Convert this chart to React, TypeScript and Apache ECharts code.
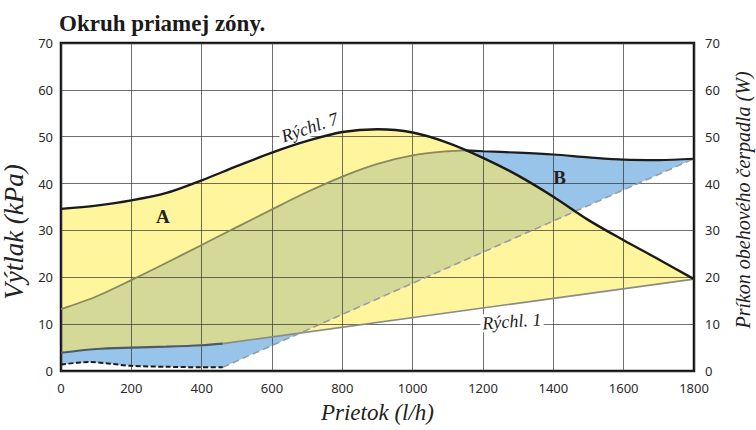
import React, { useEffect, useRef } from "react";
import * as echarts from "echarts";

// ---- data ----
const xTicks = [0, 200, 400, 600, 800, 1000, 1200, 1400, 1600, 1800];
const yTicks = [0, 10, 20, 30, 40, 50, 60, 70];

// Pressure curve at speed 7 (kPa)
const flow7 = [0, 100, 200, 300, 400, 500, 600, 700, 800, 900, 1000, 1100, 1200, 1300, 1400, 1500, 1600, 1700, 1800];
const rychl7 = [34.6, 35.3, 36.4, 38.0, 40.7, 43.7, 46.6, 49.1, 51.0, 51.6, 50.9, 48.7, 45.5, 41.7, 37.2, 32.2, 27.9, 23.8, 19.6];

// Pressure curve at speed 1 (kPa)
const flow1 = [0, 100, 200, 300, 400, 460, 1800];
const rychl1 = [3.9, 4.7, 5.0, 5.2, 5.5, 5.85, 19.6];

// Max power input (W)
const flowPmax = [0, 100, 200, 300, 400, 500, 600, 700, 800, 900, 1000, 1100, 1150, 1200, 1300, 1400, 1500, 1600, 1700, 1800];
const pmax = [13.2, 15.9, 19.4, 23.1, 26.9, 30.7, 34.5, 38.2, 41.5, 44.2, 46.0, 46.9, 47.1, 46.9, 46.6, 46.2, 45.6, 45.1, 45.0, 45.3];

// Min power input (W)
const flowPmin = [0, 80, 200, 300, 400, 460, 1800];
const pmin = [1.4, 1.9, 1.1, 0.9, 0.8, 0.8, 45.3];

// Annotations: [text, flow, value, rotation]
const curveLabels: [string, number, number, number][] = [
  ["Rýchl. 7", 707, 52.0, 0.33],
  ["Rýchl. 1", 1282, 10.6, 0.07],
];
const areaLabels: [string, number, number][] = [
  ["A", 290, 33.0],
  ["B", 1418, 41.4],
];

const YELLOW = "#fff59c";
const BLUE = "#97c4e8";
const OLIVE = "#d4d998";

const pairs = (fx: number[], fy: number[], from = 0, to = fx.length - 1) =>
  fx.slice(from, to + 1).map((f, i) => [f, fy[from + i]]);

const interp = (fx: number[], fy: number[], x: number) => {
  if (x <= fx[0]) return fy[0];
  for (let i = 1; i < fx.length; i++) {
    if (x <= fx[i]) {
      const t = (x - fx[i - 1]) / (fx[i] - fx[i - 1]);
      return fy[i - 1] + t * (fy[i] - fy[i - 1]);
    }
  }
  return fy[fy.length - 1];
};

const SERIF = '"Liberation Serif", "DejaVu Serif", serif';
const SANS = '"Noto Sans", "DejaVu Sans", sans-serif';

export default function App() {
  const ref = useRef<HTMLDivElement>(null);
  useEffect(() => {
    if (!ref.current) return;
    const chart = echarts.init(ref.current, undefined, { renderer: "svg" });
    const i460_1 = flow1.indexOf(460);
    const i1150 = flowPmax.indexOf(1150);
    const i460_m = flowPmin.indexOf(460);

    const gridLine = { show: true, lineStyle: { color: "#333", width: 1, opacity: 0.7 } };
    const tickLabel = { fontFamily: SANS, fontSize: 13, color: "#2a2a2a", formatter: (v: number) => String(v) };
    const smoothLine = (name: string, data: number[][], color: string, width: number, z: number, type: any = "solid") => ({
      type: "line",
      name,
      data,
      smooth: 0.3,
      symbol: "none",
      silent: true,
      z,
      lineStyle: { color, width, type },
    });

    const option: any = {
      animation: false,
      backgroundColor: "#ffffff",
      title: {
        text: "Okruh priamej zóny.",
        left: 59,
        top: 12,
        padding: 0,
        textStyle: { fontFamily: SERIF, fontWeight: "bold", fontSize: 23, color: "#1a1a1a" },
      },
      grid: {
        left: 61,
        right: 62,
        top: 43,
        bottom: 59,
        outerBoundsMode: "none",
        containLabel: false,
        show: true,
        borderColor: "#141414",
        borderWidth: 2.5,
        backgroundColor: "transparent",
      },
      xAxis: {
        type: "value",
        min: 0,
        max: 1800,
        interval: 200,
        name: "Prietok (l/h)",
        nameLocation: "middle",
        nameGap: 30,
        nameTextStyle: { fontFamily: SERIF, fontStyle: "italic", fontSize: 23, color: "#222" },
        axisLine: { show: false },
        axisTick: { show: false },
        axisLabel: { margin: 10, ...tickLabel },
        splitLine: gridLine,
      },
      yAxis: [
        {
          type: "value",
          min: 0,
          max: 70,
          interval: 10,
          name: "Výtlak (kPa)",
          nameLocation: "middle",
          nameRotate: 90,
          nameGap: 26,
          nameTextStyle: {
            fontFamily: SERIF,
            fontStyle: "italic",
            fontSize: 27,
            color: "#222",
            padding: [0, 50, 0, 0],
          },
          axisLine: { show: false },
          axisTick: { show: false },
          axisLabel: { margin: 8, ...tickLabel },
          splitLine: gridLine,
        },
        {
          type: "value",
          position: "right",
          min: 0,
          max: 70,
          interval: 10,
          name: "Príkon obehového čerpadla (W)",
          nameLocation: "middle",
          nameRotate: 90,
          nameGap: 39,
          nameTextStyle: {
            fontFamily: SERIF,
            fontStyle: "italic",
            fontSize: 20,
            color: "#222",
            padding: [0, 0, 0, 14],
          },
          axisLine: { show: false },
          axisTick: { show: false },
          axisLabel: { margin: 11, ...tickLabel },
          splitLine: { show: false },
        },
      ],
      series: [
        {
          type: "custom",
          name: "areas",
          z: -1,
          silent: true,
          data: [[0, 0]],
          renderItem: (_p: any, api: any) => {
            const c = (x: number, y: number) => api.coord([x, y]);
            const yellowPts = [
              ...flow7.map((f, i) => c(f, rychl7[i])),
              ...flow1.map((f, i) => c(f, rychl1[i])).reverse(),
            ];
            const bluePts = [
              ...flowPmax.map((f, i) => c(f, pmax[i])),
              ...flowPmin.map((f, i) => c(f, pmin[i])).reverse(),
            ];
            const hi: number[][] = [];
            const lo: number[][] = [];
            for (let x = 0; x <= 1800; x += 5) {
              const l = Math.max(interp(flow1, rychl1, x), interp(flowPmin, pmin, x));
              const h = Math.max(l, Math.min(interp(flow7, rychl7, x), interp(flowPmax, pmax, x)));
              hi.push(c(x, h));
              lo.push(c(x, l));
            }
            return {
              type: "group",
              children: [
                { type: "polygon", shape: { points: yellowPts }, style: { fill: YELLOW, stroke: null } },
                { type: "polygon", shape: { points: bluePts }, style: { fill: BLUE, stroke: null } },
                { type: "polygon", shape: { points: [...hi, ...lo.reverse()] }, style: { fill: OLIVE, stroke: null } },
              ],
            };
          },
        },
        smoothLine("Rýchl. 1 tail", pairs(flow1, rychl1, i460_1), "#8a8a8a", 1.6, 3),
        smoothLine("Pmin tail", pairs(flowPmin, pmin, i460_m), "#9c9c9c", 1.6, 3, [7, 4]),
        smoothLine("Rýchl. 1", pairs(flow1, rychl1, 0, i460_1), "#4e5a6c", 2.2, 4),
        smoothLine("Pmin", pairs(flowPmin, pmin, 0, i460_m), "#1c1c1c", 2, 4, [5, 2.5]),
        smoothLine("Pmax", pairs(flowPmax, pmax, 0, i1150), "#8a875e", 1.8, 4),
        smoothLine("Pmax tail", pairs(flowPmax, pmax, i1150), "#1c1c1c", 2.2, 4),
        smoothLine("Rýchl. 7", pairs(flow7, rychl7), "#1a1a1a", 2.4, 5),
        {
          type: "custom",
          name: "labels",
          z: 6,
          silent: true,
          data: [[0, 0]],
          renderItem: (_p: any, api: any) => {
            const children: any[] = [];
            curveLabels.forEach(([t, fx, fy, rot]) => {
              const [px, py] = api.coord([fx, fy]);
              children.push({
                type: "text",
                x: px,
                y: py,
                rotation: rot,
                style: {
                  text: t,
                  fontFamily: SERIF,
                  fontStyle: "italic",
                  fontSize: 18,
                  fill: "#222",
                  align: "center",
                  verticalAlign: "middle",
                  backgroundColor: "#ffffff",
                  padding: [0, 2, 0, 2],
                },
              });
            });
            areaLabels.forEach(([t, fx, fy]) => {
              const [px, py] = api.coord([fx, fy]);
              children.push({
                type: "text",
                x: px,
                y: py,
                style: {
                  text: t,
                  fontFamily: SERIF,
                  fontWeight: "bold",
                  fontSize: 19,
                  fill: "#222",
                  align: "center",
                  verticalAlign: "middle",
                },
              });
            });
            return { type: "group", children };
          },
        },
      ],
    };
    chart.setOption(option);
    return () => chart.dispose();
  }, []);
  return (
    <div
      ref={ref}
      style={{ position: "fixed", left: 0, top: 0, width: 756, height: 430, background: "#fff" }}
    />
  );
}
